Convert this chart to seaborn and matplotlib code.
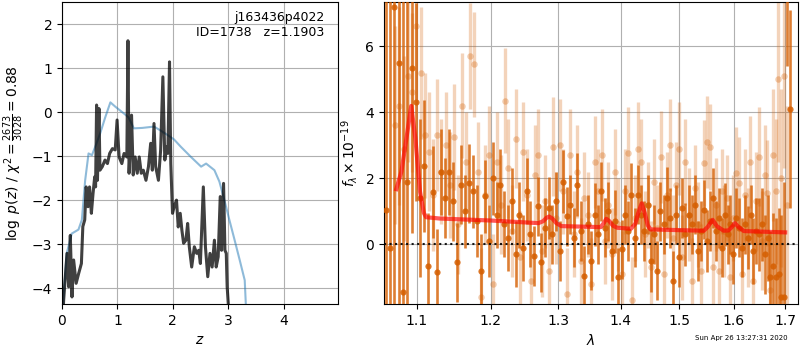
import numpy as np
import matplotlib
matplotlib.use("Agg")
import matplotlib.pyplot as plt
import seaborn as sns
from matplotlib.ticker import FixedLocator, FixedFormatter, NullLocator, NullFormatter

# p(z) curves (left panel)
z_prior = [0.0, 0.02, 0.085, 0.176, 0.297, 0.358, 0.418, 0.479, 0.54, 0.62, 0.69, 0.78,
           0.873, 0.964, 1.115, 1.2, 1.297, 1.45, 1.66, 1.78, 1.903, 2.02, 2.145, 2.327,
           2.51, 2.6, 2.75, 2.84, 2.93, 3.02, 3.115, 3.206, 3.297, 3.34]
lnp_prior = [-5.0, -4.35, -3.21, -2.76, -2.67, -2.45, -1.55, -0.94, -0.98, -0.72, -0.48,
             -0.12, 0.22, 0.12, -0.03, -0.12, -0.37, -0.36, -0.33, -0.42, -0.52, -0.62,
             -0.79, -1.02, -1.24, -1.17, -1.32, -1.58, -2.0, -2.45, -2.91, -3.36, -3.82,
             -5.0]

z_chi = [0.0, 0.03, 0.09, 0.12, 0.15, 0.18, 0.21, 0.255, 0.30, 0.35, 0.376, 0.41, 0.436,
         0.47, 0.497, 0.53, 0.56, 0.59, 0.606, 0.624, 0.64, 0.667, 0.685, 0.727, 0.776, 0.82,
         0.86, 0.91, 0.96, 0.994, 1.03, 1.08, 1.12, 1.17, 1.19, 1.21, 1.255, 1.285, 1.32,
         1.358, 1.394, 1.43, 1.467, 1.515, 1.56, 1.60, 1.63, 1.66, 1.69, 1.74, 1.78, 1.82,
         1.855, 1.885, 1.91, 1.94, 1.963, 1.994, 2.024, 2.066, 2.097, 2.133, 2.163, 2.194,
         2.236, 2.267, 2.297, 2.34, 2.388, 2.43, 2.467, 2.497, 2.55, 2.588, 2.63, 2.67,
         2.709, 2.75, 2.782, 2.818, 2.855, 2.879, 2.915, 2.94, 2.964, 2.98, 3.0, 3.01]
lnp_chi = [-5.0, -4.27, -3.21, -3.97, -2.8, -4.2, -3.36, -3.89, -3.67, -3.44, -2.6, -2.45,
           -1.7, -2.15, -1.7, -2.3, -1.85, -1.47, -1.7, 0.16, -1.55, 0.08, -1.32, -1.24,
           -1.09, -1.17, -0.94, -0.83, -0.86, -0.18, -1.02, -1.17, -0.94, -1.02, 1.62,
           -1.39, -0.07, -1.43, -1.02, -1.39, -1.02, -1.39, -1.32, -1.55, -1.24, -0.71,
           -1.32, -0.26, -1.24, -1.55, -0.86, 0.80, -1.09, -0.79, -0.94, 1.14, -1.17, -2.30,
           -2.15, -2.0, -2.61, -2.30, -2.68, -2.98, -2.91, -2.53, -3.06, -3.52, -3.06, -3.21,
           -3.14, -3.44, -1.70, -3.06, -3.74, -3.21, -3.52, -2.91, -3.52, -3.29, -1.92,
           -3.14, -1.62, -3.14, -3.21, -3.97, -4.35, -5.0]

# spectrum (right panel), flux in 1e-19 units
flux_dark = [1.05, -0.12, 7.2, 5.5, -1.45, 1.88, 5.35, 4.3,
             1.4, 2.38, -0.66, 1.58, -0.83, 2.2, 1.4, 2.2, 1.3, -0.55,
             1.8, 1.0, 1.85, 1.6, 0.7, -0.8, 1.45, 0.1, 2.0, 0.9,
             1.8, 0.6, 0.2, 1.3, -0.3, 0.9, -0.1, 1.6, 0.3, -0.35,
             1.15, -0.55, 0.5, 1.1, 0.3, 1.3, -0.2, 1.9, 0.85, 1.2,
             0.2, 1.8, 0.4, -0.95, 0.6, -0.5, 0.9, 0.3, 1.6, 0.5,
             1.0, -0.2, 0.7, -1.0, -0.15, 0.9, 0.4, 1.5, 0.2, 1.5,
             0.9, 0.4, 1.2, -0.5, 0.3, -0.8, 1.0, 0.6, 1.4, 0.8,
             -1.1, 0.9, -0.4, 1.1, 0.3, 0.9, 0.6, 1.2, -0.2, 0.4,
             1.05, 0.1, 0.7, 1.4, 0.4, 0.8, -0.1, 0.9, 0.3, 0.6,
             -0.3, 0.8, 0.5, -0.1, 0.6, 0.2, 0.9, -0.2, 0.4, 0.3,
             0.6, -0.3, 0.2, -1.0, -0.65, -1.0, -0.9, -1.6, -1.6, 8.0, 4.1]
err_dark = [9, 9, 9, 9, 9, 6, 5, 3,
            2.4, 2.0, 1.6, 1.4, 1.3, 1.3, 1.2, 1.3, 1.2, 1.2,
            1.2, 1.1, 1.2, 1.1, 1.1, 1.1, 1.1, 1.1, 1.1, 1.0,
            1.1, 1.0, 1.0, 1.0, 1.0, 1.0, 1.0, 1.0, 1.0, 0.9,
            0.9, 0.9, 0.9, 0.95, 0.9, 0.9, 0.9, 0.95, 0.9, 0.9,
            0.9, 0.95, 0.9, 0.9, 0.9, 0.9, 0.95, 0.9, 0.9, 0.9,
            0.9, 0.9, 0.95, 0.9, 0.9, 0.9, 0.9, 0.95, 0.9, 0.9,
            0.9, 0.9, 0.9, 0.95, 0.9, 0.9, 0.9, 0.9, 0.95, 0.9,
            0.9, 0.9, 0.9, 0.9, 0.95, 0.9, 0.9, 0.9, 0.9, 0.9,
            0.9, 0.95, 0.9, 0.9, 0.9, 0.9, 0.9, 0.95, 0.9, 0.9,
            0.9, 0.9, 0.9, 0.9, 0.9, 0.95, 0.9, 1.0, 1.0, 1.1,
            1.1, 1.2, 1.3, 1.4, 1.6, 1.8, 2.0, 2.5, 3.5, 2.6, 3.0]

flux_light = [3.6, 4.2, 2.9, 5.1, 4.6, 6.6, 5.2, 3.3,
              2.8, 1.5, 3.3, 2.2, 3.0, 1.8, 3.25, 0.6, 4.2, 2.5,
              5.7, 5.45, 2.2, -1.6, 1.5, 2.7, -1.2, 2.5, 1.2, 4.35,
              2.3, 0.4, 3.2, -0.4, 2.8, 1.5, -1.1, 2.1, 2.7, -0.2,
              1.3, -0.8, 2.95, 0.8, 3.0, 1.6, -1.5, 2.7, 0.3, 2.2,
              -0.5, 1.4, 0.9, -1.2, 2.5, 1.6, 2.7, 0.1, 1.2, -0.3,
              2.2, 0.6, -0.9, 1.6, 2.75, -1.7, 0.8, 2.9, 2.5, 0.3,
              1.2, -0.7, 1.9, 0.5, 2.65, -0.9, 1.5, 3.0, 0.2, 1.8,
              2.9, -0.4, 2.5, 0.9, -1.1, 1.7, 0.6, -0.8, 2.45, 3.1,
              2.95, -0.7, 1.2, -0.8, 1.6, 0.4, 1.4, -1.0, 0.8, 2.15,
              1.85, -0.9, 1.5, 0.2, 2.5, -1.1, 1.3, 2.65, 0.1, 2.1,
              1.55, -1.4, 2.7, 1.6, 5.0, 2.0, 5.1, 1.2]
err_light = [3.0, 3.0, 2.8, 2.6, 2.4, 2.2, 2.0, 1.9,
             1.8, 1.7, 1.7, 1.6, 1.6, 1.6, 1.6, 1.5, 1.6, 1.5,
             1.6, 1.6, 1.5, 1.5, 1.5, 1.5, 1.5, 1.5, 1.5, 1.6,
             1.5, 1.4, 1.5, 1.4, 1.5, 1.4, 1.4, 1.5, 1.4, 1.4,
             1.4, 1.4, 1.5, 1.4, 1.4, 1.3, 1.4, 1.4, 1.3, 1.4,
             1.3, 1.4, 1.3, 1.4, 1.4, 1.3, 1.4, 1.3, 1.3, 1.4,
             1.3, 1.4, 1.3, 1.3, 1.4, 1.3, 1.3, 1.4, 1.3, 1.3,
             1.3, 1.4, 1.3, 1.3, 1.4, 1.3, 1.3, 1.4, 1.3, 1.3,
             1.4, 1.3, 1.3, 1.4, 1.3, 1.3, 1.3, 1.4, 1.3, 1.4,
             1.3, 1.3, 1.4, 1.3, 1.3, 1.4, 1.3, 1.4, 1.3, 1.4,
             1.4, 1.4, 1.4, 1.5, 1.4, 1.5, 1.5, 1.5, 1.5, 1.5,
             1.6, 1.8, 2.0, 2.2, 2.5, 2.7, 2.8, 3.0]

wave_model = [1.0735, 1.080, 1.087, 1.0926, 1.098, 1.104, 1.109, 1.112, 1.13, 1.20,
              1.27, 1.277, 1.282, 1.286, 1.291, 1.297, 1.305, 1.367, 1.371, 1.376, 1.381,
              1.387, 1.394, 1.4166, 1.424, 1.429, 1.4348, 1.440, 1.445, 1.4497, 1.544,
              1.551, 1.5602, 1.568, 1.5809, 1.590, 1.596, 1.602, 1.609, 1.619, 1.70]
flux_model = [1.67, 2.2, 3.3, 4.19, 3.2, 1.6, 0.95, 0.82, 0.78, 0.72,
              0.64, 0.70, 0.80, 0.84, 0.78, 0.64, 0.55, 0.52, 0.62, 0.77, 0.70,
              0.56, 0.50, 0.47, 0.62, 0.95, 1.24, 0.95, 0.58, 0.45, 0.41,
              0.52, 0.74, 0.55, 0.41, 0.42, 0.52, 0.64, 0.52, 0.40, 0.36]

wave_dark = np.linspace(1.060, 1.709, len(flux_dark))
wave_light = np.linspace(1.072, 1.703, len(flux_light))

g141 = (0.8352941, 0.3686275, 0.0)

fig = plt.figure(figsize=(8, 3.5), dpi=100)
ax1 = fig.add_axes([0.0775, 0.1314, 0.345, 0.8629])
ax2 = fig.add_axes([0.48, 0.1314, 0.5175, 0.8629])

# left: p(z)
sns.lineplot(x=z_prior, y=lnp_prior, ax=ax1, color="tab:blue", alpha=0.5, lw=1.5, sort=False)
sns.lineplot(x=z_chi, y=lnp_chi, ax=ax1, color="k", alpha=0.75, lw=2.2, sort=False)
ax1.set_xlim(0, 4.98)
ax1.set_ylim(-4.36, 2.5)
ax1.set_xticks([0, 1, 2, 3, 4])
ax1.set_yticks([-4, -3, -2, -1, 0, 1, 2])
ax1.grid(True)
ax1.set_xlabel("$z$")
ax1.set_ylabel(r"$\log\ p(z)$ / $\chi^2=\frac{2673}{3028}=0.88$")
ax1.text(0.95, 0.97, "j163436p4022\nID=1738   z=1.1903", transform=ax1.transAxes,
         ha="right", va="top", fontsize=9)

# right: spectrum
ax2.errorbar(wave_light, flux_light, yerr=err_light, fmt="none", ecolor=g141,
             alpha=0.27, elinewidth=2.4, zorder=2)
sns.scatterplot(x=wave_light, y=flux_light, ax=ax2, color=g141, alpha=0.3, s=22,
                linewidth=0, zorder=2)
ax2.errorbar(wave_dark, flux_dark, yerr=err_dark, fmt="none", ecolor=g141,
             alpha=0.8, elinewidth=1.9, zorder=3)
sns.scatterplot(x=wave_dark, y=flux_dark, ax=ax2, color=g141, alpha=0.85, s=20,
                linewidth=0, zorder=3)
sns.lineplot(x=wave_model, y=flux_model, ax=ax2, color="r", alpha=0.65, lw=3,
             sort=False, zorder=4)
ax2.axhline(0, color="k", ls=":", lw=1.5, alpha=0.9, zorder=5)

ax2.set_xscale("log")
ax2.set_xlim(1.058, 1.726)
ax2.set_ylim(-1.81, 7.34)
xt = [1.1, 1.2, 1.3, 1.4, 1.5, 1.6, 1.7]
ax2.xaxis.set_major_locator(FixedLocator(xt))
ax2.xaxis.set_major_formatter(FixedFormatter([f"{v:.1f}" for v in xt]))
ax2.xaxis.set_minor_locator(NullLocator())
ax2.xaxis.set_minor_formatter(NullFormatter())
ax2.set_yticks([0, 2, 4, 6])
ax2.grid(True)
ax2.set_xlabel(r"$\lambda$")
ax2.set_ylabel(r"$f_\lambda\times10^{-19}$")

fig.text(0.985, 0.025, "Sun Apr 26 13:27:31 2020", ha="right", va="bottom", fontsize=5)

fig.savefig("out.png", dpi=100)
